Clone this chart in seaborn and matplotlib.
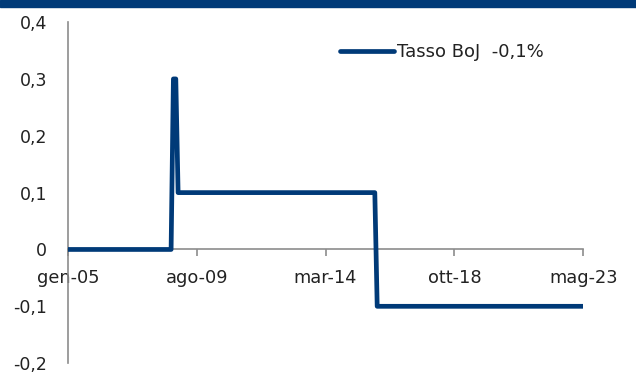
import matplotlib
matplotlib.use("Agg")
from matplotlib import pyplot as plt
from matplotlib.patches import Rectangle
import seaborn as sns
import pandas as pd

# BoJ policy rate, turning points of the step line (monthly)
dates = ["2005-01-01", "2008-09-01", "2008-10-01", "2008-11-01", "2008-12-01",
         "2015-12-01", "2016-01-01", "2023-05-01"]
rate = [0.0, 0.0, 0.3, 0.3, 0.1, 0.1, -0.1, -0.1]

tick_dates = ["2005-01-01", "2009-08-01", "2014-03-01", "2018-10-01", "2023-05-01"]
tick_labels = ["gen-05", "ago-09", "mar-14", "ott-18", "mag-23"]
y_ticks = [-0.2, -0.1, 0, 0.1, 0.2, 0.3, 0.4]
y_labels = ["-0,2", "-0,1", "0", "0,1", "0,2", "0,3", "0,4"]

df = pd.DataFrame({"data": pd.to_datetime(dates), "tasso": rate})

blue = "#003A78"
grey = "#8C8C8C"
txt = "#222222"

sns.set_style("white")
plt.rcParams["font.family"] = ["DejaVu Sans"]

fig = plt.figure(figsize=(6.36, 3.74), dpi=100)
ax = fig.add_axes([0.107, 0.029, 0.81, 0.912])

sns.lineplot(data=df, x="data", y="tasso", ax=ax, color=blue, linewidth=3.4,
             label="Tasso BoJ  -0,1%", zorder=5)
for l in ax.lines:
    l.set_solid_joinstyle("round")
    l.set_solid_capstyle("round")

ax.set_xlim(pd.Timestamp(tick_dates[0]), pd.Timestamp(tick_dates[-1]))
ax.set_ylim(-0.2, 0.4)
ax.set_xticks(pd.to_datetime(tick_dates))
ax.set_xticklabels(tick_labels)
ax.set_yticks(y_ticks)
ax.set_yticklabels(y_labels)
ax.set_xlabel("")
ax.set_ylabel("")

for s in ["top", "right"]:
    ax.spines[s].set_visible(False)
ax.spines["bottom"].set_position(("data", 0))
for s in ["left", "bottom"]:
    ax.spines[s].set_color(grey)
    ax.spines[s].set_linewidth(1.2)

ax.tick_params(axis="x", bottom=True, length=5, width=1.2, color=grey, pad=9,
               labelsize=12.8, labelcolor=txt, direction="out")
ax.tick_params(axis="y", left=False, length=0, pad=15, labelsize=12.5,
               labelcolor=txt)
for t in ax.get_yticklabels():
    t.set_horizontalalignment("right")

leg = ax.legend(loc="upper right", bbox_to_anchor=(0.955, 0.985), frameon=False,
                fontsize=13, handlelength=3.0, handletextpad=0.15)
for h in leg.get_lines():
    h.set_linewidth(3.4)
for t in leg.get_texts():
    t.set_color(txt)

# header band
fig.patches.append(Rectangle((0, 1 - 7 / 374), 1, 7 / 374, transform=fig.transFigure,
                             color=blue, zorder=10))

fig.savefig("out.png", dpi=100)
